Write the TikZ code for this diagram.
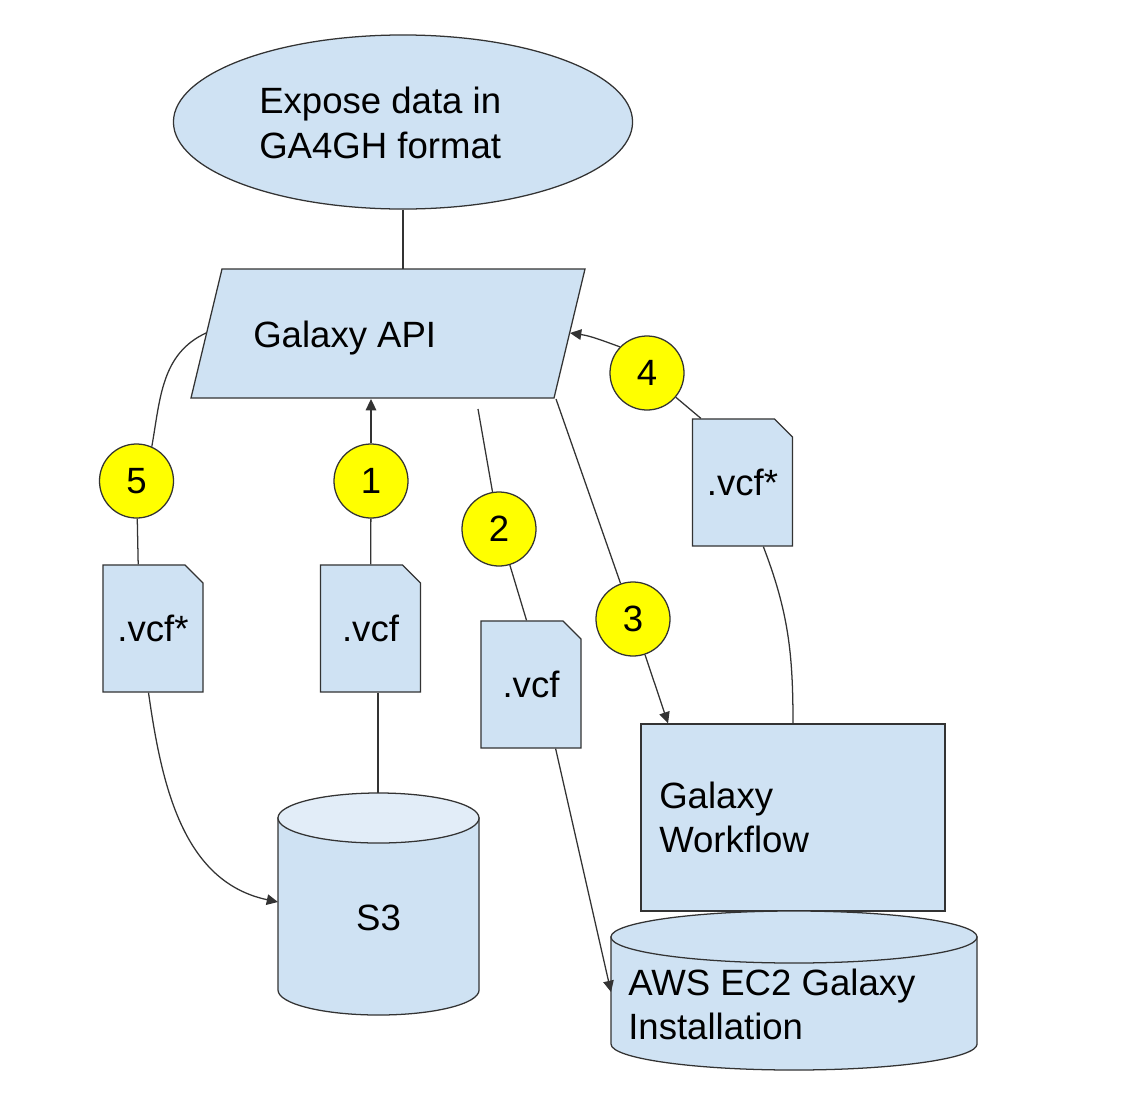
\documentclass[tikz,border=0pt]{standalone}
\usepackage{fontspec}
\setmainfont{Liberation Sans}
\usetikzlibrary{shapes.geometric,shapes.misc,arrows.meta}
\definecolor{boxblue}{HTML}{CFE2F3}
\definecolor{topblue}{HTML}{E2EDF8}
\definecolor{stepyellow}{HTML}{FFFF00}
\definecolor{edgegray}{HTML}{333333}

\begin{document}
\begin{tikzpicture}[x=0.025cm,y=-0.025cm,
  shapebox/.style={draw=edgegray,fill=boxblue,line width=0.9pt},
  txt/.style={inner sep=0pt,font=\fontsize{26}{32}\selectfont},
  numcirc/.style={circle,shapebox,fill=stepyellow,minimum size=1.85cm,txt},
  vcfdoc/.style={chamfered rectangle,chamfered rectangle corners=north east,
    chamfered rectangle xsep=0.23cm,chamfered rectangle ysep=0.22cm,
    shapebox,minimum width=2.5cm,minimum height=3.175cm,txt},
  conn/.style={draw=edgegray,line width=0.9pt},
  arr/.style={conn,-{Triangle[length=8pt,width=7.5pt]}}]

\fill[white] (0,0) rectangle (1124,1106);
\useasboundingbox (0,0) rectangle (1124,1106);

% goal
\node[ellipse,shapebox,minimum width=11.475cm,minimum height=4.35cm] (expose) at (403,122) {};
\node[txt,anchor=base west] (expose1) at (259,113) {Expose data in};
\node[txt,anchor=base west] (expose2) at (259,158) {GA4GH format};

% api
\filldraw[shapebox] (222,269) -- (585,269) -- (554,398) -- (191,398) -- cycle;
\node[txt,anchor=base west] (api) at (253,347) {Galaxy API};
\coordinate (apitop) at (403,269);
\coordinate (apibot) at (371,399);
\coordinate (apileft) at (206,333);
\coordinate (apiright) at (570,333);
\coordinate (apibr) at (556,399);
\coordinate (gap2) at (478,409);

% S3
\filldraw[shapebox] (278,818) -- (278,990)
  arc[start angle=180,end angle=360,x radius=2.5125cm,y radius=0.625cm] -- (479,818) -- cycle;
\filldraw[shapebox,fill=topblue] (378.5,818) ellipse[x radius=2.5125cm,y radius=0.625cm];
\node[txt,anchor=base] (s3) at (378.5,930) {S3};
\coordinate (s3top) at (378,793);
\coordinate (s3west) at (278,902);

% workflow
\node[rectangle,shapebox,minimum width=7.6cm,minimum height=4.675cm] (wf) at (793,817.5) {};
\node[txt,anchor=base west] (wf1) at (659,808) {Galaxy};
\node[txt,anchor=base west] (wf2) at (659,852) {Workflow};

% aws
\filldraw[shapebox] (611,937) -- (611,1044)
  arc[start angle=180,end angle=360,x radius=4.575cm,y radius=0.65cm] -- (977,937) -- cycle;
\filldraw[shapebox] (794,937) ellipse[x radius=4.575cm,y radius=0.65cm];
\node[txt,anchor=base west] (aws1) at (628,995) {AWS EC2 Galaxy};
\node[txt,anchor=base west] (aws2) at (628,1039) {Installation};
\coordinate (awswest) at (611,992);

% files and steps
\foreach \n/\x/\y/\lbl in {5/153/628.5/{.vcf*},1/370.5/628.5/{.vcf},2/531/684.5/{.vcf},4/742.5/482.5/{.vcf*}}
  \node[vcfdoc] (d\n) at (\x,\y) {\lbl};
\foreach \i/\x/\y in {1/371/481,2/499/529,3/633/619,4/647/373,5/136.5/481}
  \node[numcirc] (c\i) at (\x,\y) {\i};

% connectors
\draw[conn] (expose.south) -- (apitop);
\draw[conn] (d1) -- (c1);
\draw[arr] (c1) -- (apibot);
\draw[conn] (s3top |- d1.south) -- (s3top);
\draw[conn] (apileft) to[out=205,in=80] (c5.66);
\draw[conn] (c5) -- (d5.103);
\draw[arr] (d5.-94) to[out=-82,in=168] (s3west);
\draw[conn] (gap2) -- (c2);
\draw[conn] (c2) -- (d2.94);
\draw[arr] (d2.-69) -- (awswest);
\draw[conn] (apibr) -- (c3);
\draw[arr] (c3) -- (wf.143);
\draw[conn] (wf.north) to[out=90,in=-69] (d4.-72);
\draw[conn] (d4.123) -- (c4);
\draw[arr] (c4.136) to[out=160,in=-8] (apiright);

\end{tikzpicture}
\end{document}
